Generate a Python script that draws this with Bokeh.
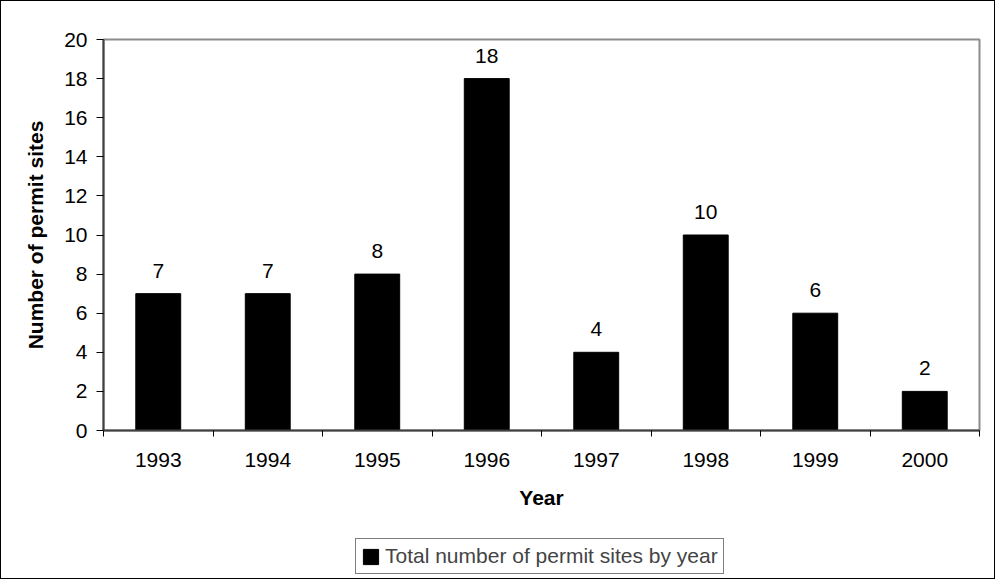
from bokeh.plotting import figure
from bokeh.layouts import column
from bokeh.models import ColumnDataSource, FixedTicker, Legend, LegendItem, LabelSet, Range1d
from bokeh.core.properties import value
from bokeh.embed import file_html
from bokeh.resources import INLINE

years = ["1993", "1994", "1995", "1996", "1997", "1998", "1999", "2000"]
sites = [7, 7, 8, 18, 4, 10, 6, 2]
y_ticks = [0, 2, 4, 6, 8, 10, 12, 14, 16, 18, 20]
legend_label = "Total number of permit sites by year"

xpos = [i + 0.5 for i in range(len(years))]
src = ColumnDataSource(dict(x=xpos, top=sites, lab=[str(v) for v in sites]))

FONT = "Liberation Sans"
FS = "21px"

p = figure(width=993, height=521, output_backend="svg", toolbar_location=None,
           x_range=Range1d(0, len(years)), y_range=Range1d(0, 20),
           min_border_left=102, min_border_right=15, min_border_top=38, min_border_bottom=92)
p.outline_line_color = "#8c8c8c"
p.outline_line_width = 2
p.grid.visible = False

r = p.vbar(x="x", top="top", width=0.41, source=src, fill_color="black", line_color="black")

labels = LabelSet(x="x", y="top", text="lab", source=src, text_align="center",
                  text_baseline="alphabetic", y_offset=16, text_font=value(FONT),
                  text_font_size=FS, text_color="black")
p.add_layout(labels)

# x axis
p.xaxis.ticker = FixedTicker(ticks=xpos, minor_ticks=list(range(len(years) + 1)))
p.xaxis.major_label_overrides = {x: y for x, y in zip(xpos, years)}
p.xaxis.major_tick_out = 0
p.xaxis.major_tick_in = 0
p.xaxis.minor_tick_out = 6
p.xaxis.minor_tick_in = 0
p.xaxis.minor_tick_line_color = "black"
p.xaxis.axis_line_color = "#404040"
p.xaxis.axis_line_width = 2
p.xaxis.major_label_standoff = 16
p.xaxis.axis_label = "Year"
p.xaxis.axis_label_standoff = 16

# y axis
p.yaxis.ticker = FixedTicker(ticks=y_ticks)
p.yaxis.minor_tick_line_color = None
p.yaxis.major_tick_out = 7
p.yaxis.major_tick_in = 0
p.yaxis.major_tick_line_color = "black"
p.yaxis.axis_line_color = "#404040"
p.yaxis.axis_line_width = 2
p.yaxis.major_label_standoff = 9
p.yaxis.axis_label = "Number of permit sites"
p.yaxis.axis_label_standoff = 14

for ax in (p.xaxis, p.yaxis):
    ax.major_label_text_font = FONT
    ax.major_label_text_font_size = FS
    ax.major_label_text_color = "black"
    ax.axis_label_text_font = FONT
    ax.axis_label_text_font_size = FS
    ax.axis_label_text_font_style = "bold"
    ax.axis_label_text_color = "black"

# legend strip (frame aligned with the main plot's frame by the column layout)
p2 = figure(width=993, height=56, output_backend="svg", toolbar_location=None,
            x_range=Range1d(0, 1), y_range=Range1d(0, 1),
            x_axis_location=None, y_axis_location=None,
            min_border_left=0, min_border_right=0, min_border_top=0, min_border_bottom=0)
p2.outline_line_color = None
p2.grid.visible = False
r2 = p2.vbar(x="x", top="top", width=0.41, source=src, fill_color="black",
             line_color="black", visible=False)

legend = Legend(items=[LegendItem(label=legend_label, renderers=[r2])],
                location=(252, 4), orientation="horizontal",
                label_text_font=FONT, label_text_font_size=FS,
                glyph_width=19, glyph_height=19, padding=5, margin=0, spacing=0,
                label_standoff=5, label_width=333, inactive_fill_alpha=0,
                border_line_color="black", border_line_width=1,
                background_fill_alpha=1)
p2.add_layout(legend)

layout = column(p, p2, spacing=0)
layout.styles = {"border": "1px solid black"}

open("out.html", "w").write(file_html(layout, INLINE))
